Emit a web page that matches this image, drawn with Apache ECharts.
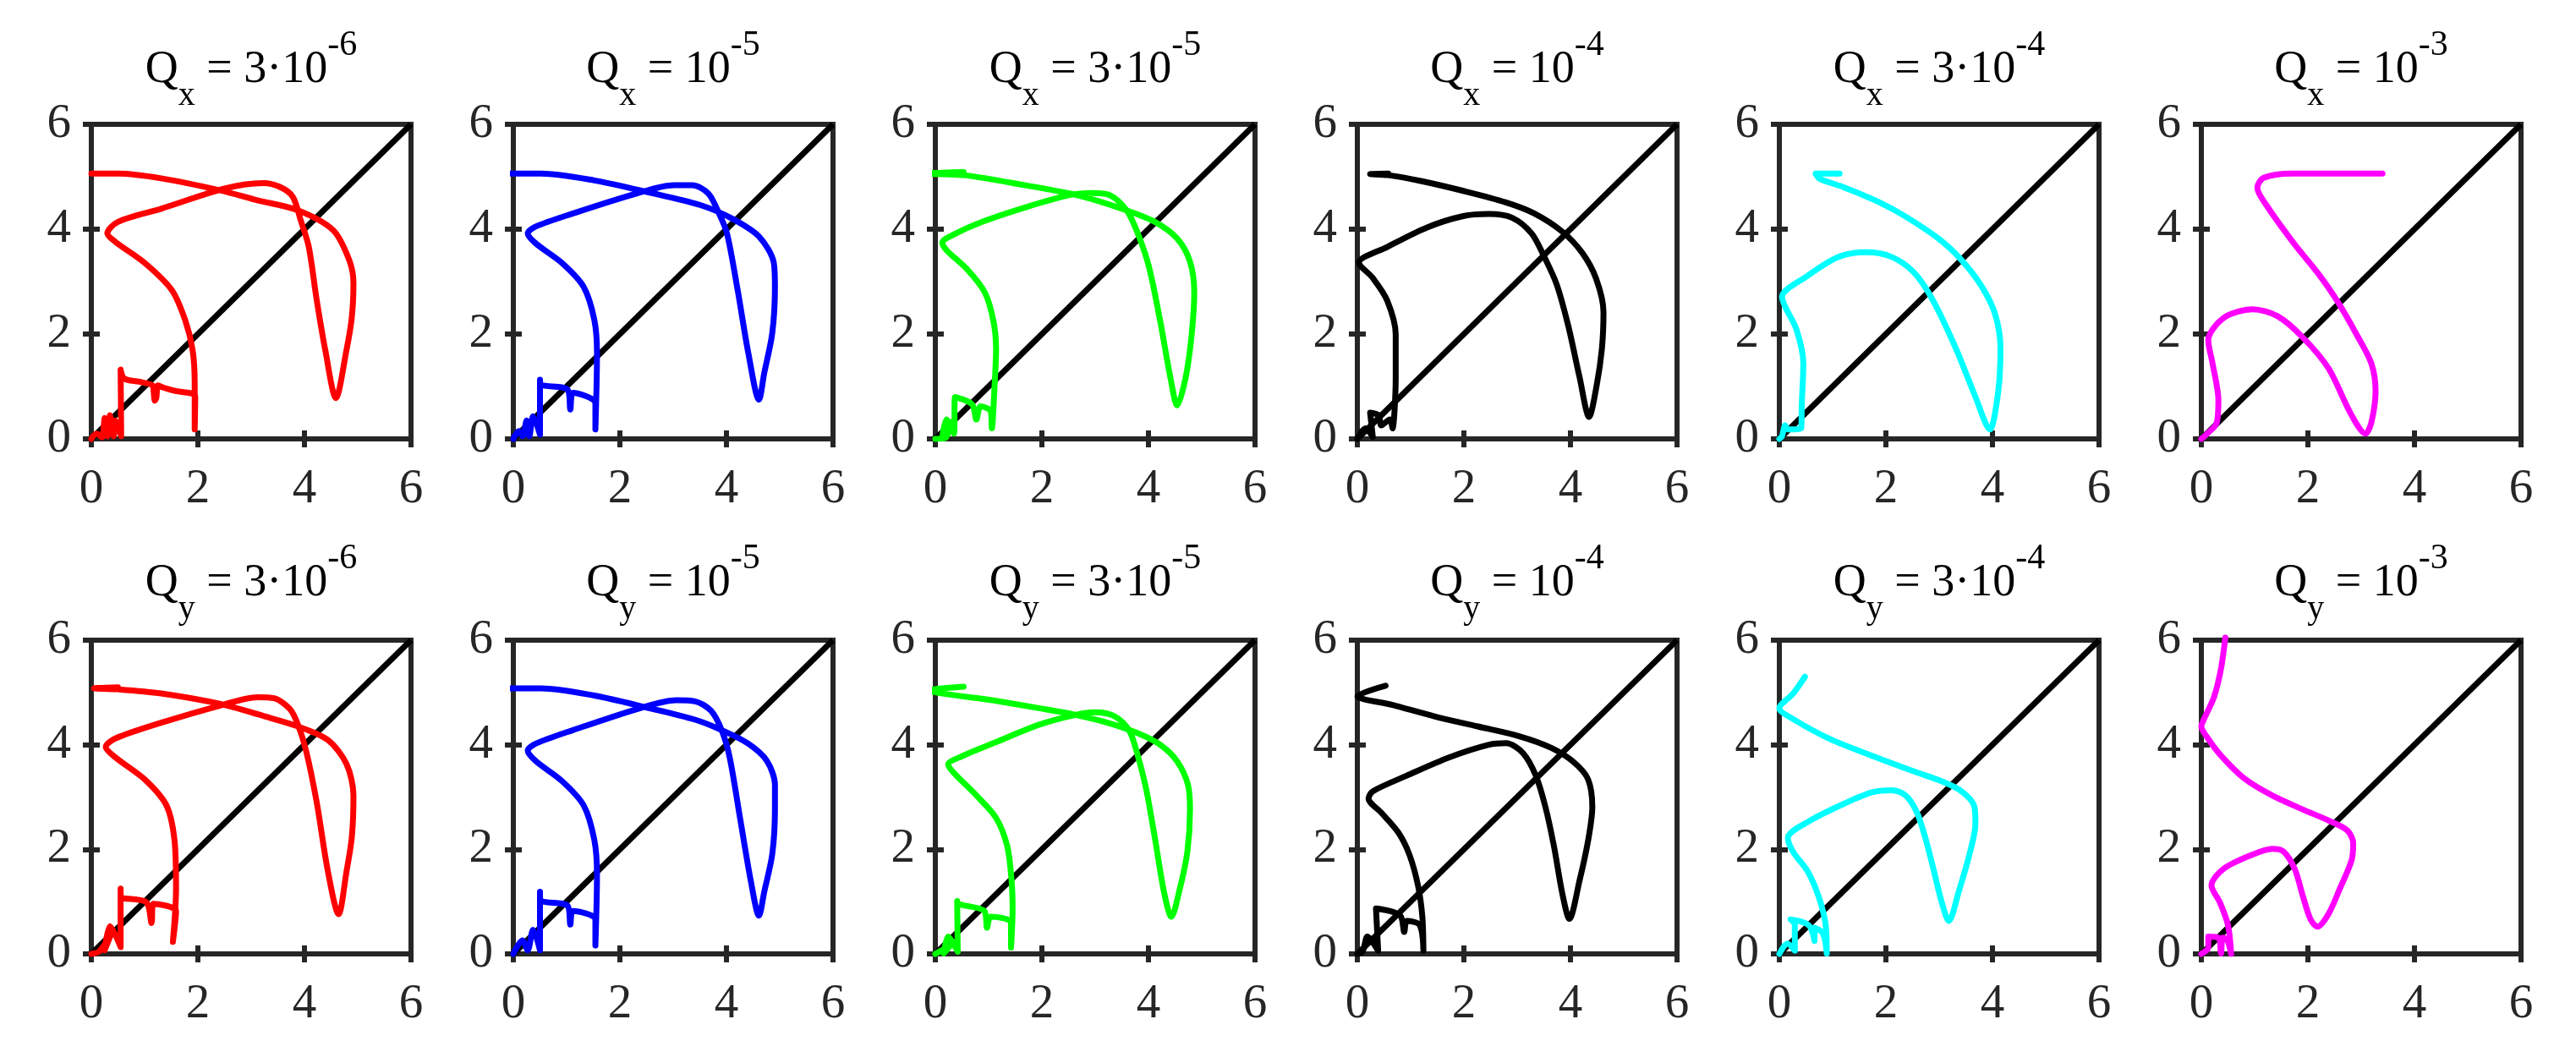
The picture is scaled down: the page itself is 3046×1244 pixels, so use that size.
<!DOCTYPE html>
<html>
<head>
<meta charset="utf-8">
<title>Q trajectories</title>
<script src="https://cdn.jsdelivr.net/npm/echarts@6/dist/echarts.min.js"></script>
<style>
  html, body { margin: 0; padding: 0; background: #ffffff; }
  #chart { width: 3046px; height: 1244px; }
</style>
</head>
<body>
<div id="chart"></div>
<script>
// shared axis ticks and the y = x reference line
const axisTicks = [0, 2, 4, 6]
const diagLine = [[0, 0], [6, 6]]

const panelColors = ['#ff0000', '#0000ff', '#00ff00', '#000000', '#00ffff', '#ff00ff']
const titleMantissa = ['3·10', '10', '3·10', '10', '3·10', '10']
const titleExponent = ['-6', '-5', '-5', '-4', '-4', '-3']
const rowNames = ['x', 'y']

// top row: Q_x
const qx1 = [[0, 5.06], [0.5, 5.06], [1.31, 4.97], [2.42, 4.74], [3.12, 4.55], [3.88, 4.36], [4.54, 3.98], [4.84, 3.41], [4.92, 2.97], [4.89, 2.33], [4.79, 1.70], [4.59, 0.78], [4.39, 1.70], [4.23, 2.65], [4.08, 3.67], [3.93, 4.17], [3.78, 4.62], [3.53, 4.81], [3.23, 4.88], [2.52, 4.78], [1.31, 4.39], [0.50, 4.14], [0.30, 3.92], [0.45, 3.76], [1.01, 3.35], [1.51, 2.84], [1.76, 2.27], [1.90, 1.70], [1.94, 1.07], [1.94, 0.18], [1.95, 0.81], [1.55, 0.92], [1.35, 0.98], [1.25, 1.02], [1.22, 0.78], [1.19, 0.73], [1.17, 0.90], [1.15, 1.02], [0.9, 1.09], [0.62, 1.15], [0.55, 1.32], [0.56, 0.05], [0.45, 0.35], [0.42, 0.05], [0.35, 0.45], [0.3, 0.05], [0.25, 0.4], [0.2, 0.03], [0.1, 0.1], [0, 0]]
const qx2 = [[-0.2, 5.06], [0.52, 5.06], [1.52, 4.93], [2.51, 4.71], [3.51, 4.46], [4.11, 4.20], [4.61, 3.86], [4.89, 3.35], [4.91, 2.90], [4.86, 2.02], [4.71, 1.26], [4.61, 0.75], [4.41, 1.64], [4.21, 2.84], [4.01, 3.92], [3.86, 4.30], [3.66, 4.68], [3.36, 4.84], [3.01, 4.84], [2.31, 4.68], [1.12, 4.30], [0.42, 4.05], [0.27, 3.92], [0.42, 3.73], [0.92, 3.35], [1.32, 2.90], [1.52, 2.27], [1.57, 1.64], [1.54, 0.18], [1.54, 0.68], [1.12, 0.88], [1.07, 0.56], [1.02, 0.94], [0.52, 1.03], [0.50, 1.13], [0.50, 0.08], [0.37, 0.43], [0.30, 0.05], [0.25, 0.35], [0.17, 0.05], [0.1, 0.15], [0, 0]]
const qx3 = [[0.53, 5.09], [-0.24, 5.06], [0.53, 5.03], [1.67, 4.84], [2.65, 4.65], [3.53, 4.38], [4.12, 4.14], [4.54, 3.82], [4.78, 3.38], [4.86, 2.79], [4.81, 1.98], [4.70, 1.18], [4.54, 0.64], [4.41, 1.18], [4.22, 2.25], [4.01, 3.28], [3.80, 3.92], [3.59, 4.36], [3.27, 4.65], [2.95, 4.69], [2.52, 4.65], [1.67, 4.41], [0.88, 4.14], [0.35, 3.90], [0.13, 3.74], [0.21, 3.60], [0.61, 3.22], [0.93, 2.79], [1.09, 2.25], [1.14, 1.71], [1.12, 1.18], [1.06, 0.20], [1.04, 0.53], [0.85, 0.62], [0.77, 0.37], [0.69, 0.66], [0.37, 0.80], [0.35, 0.10], [0.21, 0.37], [0.13, 0.04], [0.29, 0.31], [0.19, 0.02], [0, 0]]
const qx4 = [[0.58, 5.06], [0.24, 5.05], [0.58, 5.03], [1.19, 4.92], [1.99, 4.73], [2.79, 4.51], [3.32, 4.30], [3.85, 3.95], [4.22, 3.55], [4.48, 3.06], [4.62, 2.42], [4.59, 1.72], [4.49, 1.01], [4.35, 0.42], [4.17, 1.18], [3.96, 2.15], [3.74, 2.95], [3.50, 3.49], [3.27, 3.92], [2.90, 4.22], [2.47, 4.29], [1.99, 4.25], [1.30, 4.03], [0.56, 3.66], [0.03, 3.36], [0.29, 3.07], [0.56, 2.64], [0.72, 1.99], [0.72, 1.18], [0.66, 0.20], [0.61, 0.37], [0.45, 0.26], [0.40, 0.45], [0.24, 0.50], [0.29, 0.04], [0.15, 0.2], [0, 0]]
const qx5 = [[1.13, 5.06], [0.68, 5.06], [0.76, 4.96], [1.21, 4.80], [1.84, 4.53], [2.37, 4.24], [3.0, 3.81], [3.42, 3.41], [3.79, 2.92], [4.05, 2.38], [4.15, 1.73], [4.11, 0.92], [3.95, 0.18], [3.68, 0.80], [3.32, 1.71], [2.89, 2.63], [2.53, 3.17], [2.11, 3.47], [1.63, 3.56], [1.11, 3.47], [0.53, 3.11], [0.05, 2.71], [0.11, 2.52], [0.32, 2.09], [0.45, 1.44], [0.42, 0.64], [0.41, 0.20], [0.16, 0.18], [0.11, 0.26], [0.05, 0.05], [0, 0]]
const qx6 = [[3.40, 5.06], [1.70, 5.06], [1.17, 4.98], [1.05, 4.79], [1.22, 4.46], [1.75, 3.71], [2.18, 3.17], [2.55, 2.63], [2.92, 1.98], [3.19, 1.44], [3.27, 0.91], [3.19, 0.31], [3.08, 0.10], [2.81, 0.47], [2.39, 1.34], [1.91, 1.93], [1.43, 2.34], [0.96, 2.47], [0.42, 2.31], [0.13, 1.88], [0.21, 1.44], [0.32, 0.74], [0.29, 0.31], [0.11, 0.10], [0, 0]]

// bottom row: Q_y
const qy1 = [[0.5, 5.1], [0.05, 5.08], [0.5, 5.06], [1.31, 4.98], [2.42, 4.78], [3.23, 4.55], [3.88, 4.35], [4.44, 4.09], [4.79, 3.63], [4.92, 3.03], [4.89, 2.24], [4.79, 1.58], [4.64, 0.76], [4.44, 1.58], [4.23, 2.90], [4.03, 3.89], [3.88, 4.38], [3.73, 4.68], [3.43, 4.89], [3.12, 4.91], [2.42, 4.75], [1.31, 4.42], [0.45, 4.12], [0.27, 3.96], [0.45, 3.76], [1.01, 3.33], [1.41, 2.84], [1.56, 2.18], [1.59, 1.25], [1.53, 0.23], [1.59, 0.82], [1.16, 0.96], [1.13, 0.59], [1.03, 0.99], [0.55, 1.09], [0.55, 1.25], [0.55, 0.13], [0.35, 0.53], [0.25, 0.07], [0.38, 0.40], [0.15, 0.05], [0, 0]]
const qy2 = [[-0.2, 5.08], [0.52, 5.08], [1.52, 4.94], [2.51, 4.71], [3.41, 4.48], [3.91, 4.28], [4.41, 4.02], [4.76, 3.69], [4.91, 3.23], [4.91, 2.77], [4.86, 1.91], [4.71, 1.19], [4.61, 0.73], [4.46, 1.38], [4.26, 2.57], [4.06, 3.76], [3.91, 4.28], [3.71, 4.65], [3.41, 4.83], [3.06, 4.85], [2.41, 4.71], [1.12, 4.28], [0.42, 4.02], [0.27, 3.89], [0.42, 3.69], [0.92, 3.30], [1.32, 2.84], [1.52, 2.18], [1.57, 1.52], [1.54, 0.16], [1.54, 0.66], [1.12, 0.82], [1.07, 0.56], [1.02, 0.92], [0.52, 1.02], [0.50, 1.19], [0.50, 0.07], [0.37, 0.46], [0.27, 0.07], [0.17, 0.26], [0, 0]]
const qy3 = [[0.53, 5.11], [-0.1, 5.04], [1.14, 4.84], [1.94, 4.70], [2.63, 4.57], [3.27, 4.41], [3.80, 4.22], [4.22, 4.00], [4.54, 3.68], [4.74, 3.24], [4.78, 2.76], [4.73, 1.95], [4.59, 1.25], [4.43, 0.71], [4.30, 1.14], [4.12, 2.22], [3.96, 3.14], [3.80, 3.79], [3.64, 4.27], [3.37, 4.54], [3.0, 4.62], [2.63, 4.57], [1.94, 4.38], [1.14, 4.05], [0.50, 3.78], [0.24, 3.62], [0.35, 3.46], [0.77, 3.03], [1.14, 2.60], [1.35, 2.06], [1.43, 1.41], [1.45, 0.87], [1.42, 0.12], [1.42, 0.60], [1.04, 0.71], [0.97, 0.50], [0.92, 0.82], [0.42, 0.96], [0.41, 1.01], [0.42, 0.04], [0.24, 0.33], [0.16, 0.01], [0.29, 0.17], [0, 0]]
const qy4 = [[0.53, 5.13], [0.0, 4.93], [0.66, 4.76], [1.46, 4.54], [2.26, 4.35], [3.05, 4.16], [3.64, 3.94], [4.06, 3.67], [4.33, 3.34], [4.41, 2.81], [4.33, 2.16], [4.17, 1.40], [3.98, 0.67], [3.85, 1.14], [3.69, 2.06], [3.53, 2.81], [3.35, 3.41], [3.11, 3.84], [2.79, 4.03], [2.47, 4.00], [1.73, 3.76], [0.93, 3.41], [0.29, 3.11], [0.21, 2.97], [0.45, 2.70], [0.77, 2.32], [0.98, 1.89], [1.14, 1.30], [1.22, 0.71], [1.24, 0.06], [1.17, 0.55], [0.93, 0.63], [0.88, 0.42], [0.80, 0.74], [0.35, 0.87], [0.39, 0.06], [0.19, 0.33], [0.1, 0.05], [0, 0]]
const qy5 = [[0.48, 5.30], [0.26, 4.98], [0.0, 4.70], [0.26, 4.49], [0.95, 4.11], [1.74, 3.79], [2.53, 3.49], [3.05, 3.30], [3.42, 3.11], [3.66, 2.82], [3.68, 2.49], [3.58, 1.95], [3.37, 1.20], [3.18, 0.63], [3.05, 0.98], [2.89, 1.63], [2.74, 2.22], [2.58, 2.71], [2.37, 3.03], [2.11, 3.13], [1.74, 3.09], [1.21, 2.87], [0.58, 2.55], [0.16, 2.22], [0.26, 1.95], [0.53, 1.58], [0.74, 1.09], [0.87, 0.55], [0.89, 0.01], [0.82, 0.39], [0.66, 0.50], [0.66, 0.25], [0.55, 0.55], [0.21, 0.66], [0.29, 0.55], [0.29, 0.06], [0.15, 0.2], [0, 0]]
const qy6 = [[0.45, 6.05], [0.37, 5.46], [0.24, 4.92], [0.05, 4.49], [0.0, 4.35], [0.11, 4.14], [0.37, 3.79], [0.80, 3.36], [1.33, 3.03], [1.91, 2.76], [2.39, 2.55], [2.74, 2.36], [2.85, 2.12], [2.82, 1.79], [2.60, 1.25], [2.39, 0.77], [2.18, 0.52], [2.05, 0.66], [1.91, 1.09], [1.75, 1.63], [1.54, 1.96], [1.33, 2.01], [0.96, 1.90], [0.42, 1.63], [0.19, 1.31], [0.35, 0.98], [0.50, 0.55], [0.56, 0.0], [0.48, 0.28], [0.40, 0.31], [0.37, 0.01], [0.32, 0.31], [0.13, 0.33], [0.13, 0.12], [0, 0]]

const rowCurves = [
  [qx1, qx2, qx3, qx4, qx5, qx6],
  [qy1, qy2, qy3, qy4, qy5, qy6]
]

const FONT = 'Liberation Serif'
const AXIS_COLOR = '#262626'
const LINE_W = 7
const rowTop = [147, 757]
const rowHeight = [372, 371]
const titleTop = [33, 640]
const panelLeft0 = 108
const panelStep = 499
const panelWidth = 378

const chart = echarts.init(document.getElementById('chart'), null, { renderer: 'canvas' })

const grids = []
const xAxes = []
const yAxes = []
const series = []
const titles = []

const titleRich = {
  m: { fontSize: 54, fontFamily: FONT, fontWeight: 'normal', color: '#000', lineHeight: 100, verticalAlign: 'middle' },
  s: { fontSize: 40, fontFamily: FONT, fontWeight: 'normal', color: '#000', lineHeight: 36, verticalAlign: 'bottom' },
  p: { fontSize: 42, fontFamily: FONT, fontWeight: 'normal', color: '#000', lineHeight: 50, verticalAlign: 'top' }
}

function tickAxis(gridIndex, position, showLabel, margin) {
  return {
    gridIndex: gridIndex,
    type: 'value',
    position: position,
    min: axisTicks[0],
    max: axisTicks[axisTicks.length - 1],
    interval: axisTicks[1] - axisTicks[0],
    axisLine: { show: false },
    axisTick: { show: true, inside: true, length: 10, lineStyle: { color: AXIS_COLOR, width: 6 } },
    axisLabel: {
      show: showLabel,
      margin: margin,
      formatter: '{t|{value}}',
      rich: { t: { fontSize: 57, fontFamily: FONT, fontWeight: 'normal', color: AXIS_COLOR } }
    },
    splitLine: { show: false }
  }
}

for (let row = 0; row < 2; row++) {
  for (let col = 0; col < 6; col++) {
    const p = row * 6 + col
    const left = panelLeft0 + panelStep * col
    grids.push({
      left: left,
      top: rowTop[row],
      width: panelWidth,
      height: rowHeight[row],
      show: true,
      borderColor: AXIS_COLOR,
      borderWidth: 6,
      backgroundColor: 'transparent'
    })
    xAxes.push(tickAxis(p, 'bottom', true, 32))
    xAxes.push(tickAxis(p, 'top', false, 8))
    yAxes.push(tickAxis(p, 'left', true, 24))
    yAxes.push(tickAxis(p, 'right', false, 8))

    series.push({
      type: 'line',
      xAxisIndex: 2 * p,
      yAxisIndex: 2 * p,
      data: diagLine,
      symbol: 'none',
      clip: false,
      lineStyle: { color: '#000000', width: LINE_W },
      z: 2
    })
    series.push({
      type: 'line',
      xAxisIndex: 2 * p,
      yAxisIndex: 2 * p,
      data: rowCurves[row][col],
      symbol: 'none',
      smooth: 0.3,
      clip: false,
      lineStyle: { color: panelColors[col], width: LINE_W, join: 'round', cap: 'round' },
      z: 3
    })

    const mant = titleMantissa[col]
    titles.push({
      text: '{m|Q}{s|' + rowNames[row] + '}{m| = ' + mant + '}{p|' + titleExponent[col] + '}',
      left: left + panelWidth / 2,
      top: titleTop[row],
      textAlign: 'center',
      padding: 0,
      textStyle: { fontWeight: 'normal', fontFamily: FONT, rich: titleRich }
    })
  }
}

chart.setOption({
  animation: false,
  backgroundColor: '#ffffff',
  textStyle: { fontFamily: FONT },
  title: titles,
  grid: grids,
  xAxis: xAxes,
  yAxis: yAxes,
  series: series
})

window.addEventListener('resize', () => chart.resize())
</script>
</body>
</html>
